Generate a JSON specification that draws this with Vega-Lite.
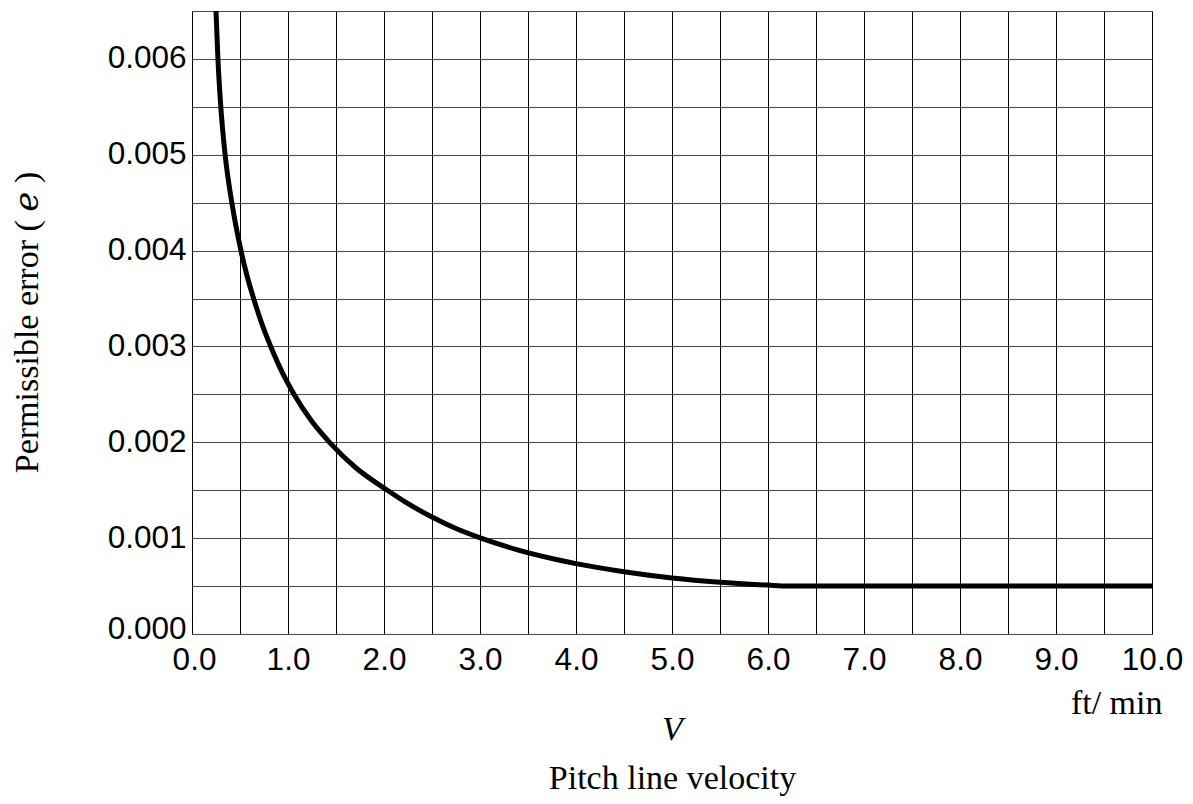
{
  "$schema": "https://vega.github.io/schema/vega-lite/v6.json",
  "width": 960,
  "height": 623,
  "autosize": "none",
  "padding": {"left": 192, "top": 11, "right": 41, "bottom": 170},
  "background": "white",
  "config": {
    "view": {"stroke": "#4a4a4a", "strokeWidth": 1},
    "axis": {
      "domain": false,
      "ticks": false,
      "labelFont": "Liberation Sans",
      "labelFontSize": 31.5,
      "labelColor": "#000",
      "labelOverlap": false,
      "titleFont": "Liberation Serif, DejaVu Serif, serif",
      "titleFontSize": 34,
      "titleFontWeight": "normal",
      "titleColor": "#000"
    }
  },
  "data": {
    "values": [
      {"V": 0.25, "e": 0.0065},
      {"V": 0.27, "e": 0.0060},
      {"V": 0.30, "e": 0.0055},
      {"V": 0.345, "e": 0.0050},
      {"V": 0.415, "e": 0.0045},
      {"V": 0.51, "e": 0.0040},
      {"V": 0.575, "e": 0.00373},
      {"V": 0.65, "e": 0.003475},
      {"V": 0.73, "e": 0.00323},
      {"V": 0.82, "e": 0.0030},
      {"V": 0.94, "e": 0.00273},
      {"V": 1.064, "e": 0.0025},
      {"V": 1.24, "e": 0.00223},
      {"V": 1.433, "e": 0.0020},
      {"V": 1.7, "e": 0.00174},
      {"V": 2.035, "e": 0.0015},
      {"V": 2.25, "e": 0.00136},
      {"V": 2.5, "e": 0.00122},
      {"V": 2.75, "e": 0.0011},
      {"V": 3.01, "e": 0.0010},
      {"V": 3.4, "e": 0.000876},
      {"V": 3.83, "e": 0.00077},
      {"V": 4.0, "e": 0.000734},
      {"V": 4.5, "e": 0.00065},
      {"V": 5.0, "e": 0.000585},
      {"V": 5.5, "e": 0.00054},
      {"V": 6.0, "e": 0.00051},
      {"V": 6.2, "e": 0.0005},
      {"V": 10.0, "e": 0.0005}
    ]
  },
  "encoding": {
    "y": {
      "field": "e",
      "type": "quantitative",
      "scale": {"domain": [0, 0.0065], "nice": false, "zero": true},
      "axis": {
        "values": [0, 0.0005, 0.001, 0.0015, 0.002, 0.0025, 0.003, 0.0035, 0.004, 0.0045, 0.005, 0.0055, 0.006, 0.0065],
        "labelExpr": "round(datum.value*2000) % 2 == 0 && datum.value < 0.0064 ? format(datum.value, '.3f') : ''",
        "labelPadding": 6,
        "labelOffset": {"condition": {"test": "datum.value == 0", "value": -5}, "value": 0},
        "grid": true,
        "gridColor": "#4a4a4a",
        "gridWidth": 1,
        "title": "Permissible error ( 𝑒 )",
        "titleAngle": -90,
        "titleX": -165,
        "titleY": 311,
        "titleAlign": "center",
        "titleBaseline": "middle"
      }
    }
  },
  "layer": [
    {
      "mark": {"type": "line", "color": "#000", "strokeWidth": 5, "clip": true, "interpolate": "monotone"},
      "encoding": {
        "x": {
          "field": "V",
          "type": "quantitative",
          "scale": {"domain": [0, 10], "nice": false},
          "axis": {
            "values": [0, 0.5, 1, 1.5, 2, 2.5, 3, 3.5, 4, 4.5, 5, 5.5, 6, 6.5, 7, 7.5, 8, 8.5, 9, 9.5, 10],
            "labelExpr": "round(datum.value*2) % 2 == 0 ? format(datum.value, '.1f') : ''",
            "labelPadding": 10,
            "labelFlush": false,
            "labelOffset": {"condition": {"test": "datum.value == 0", "value": 2}, "value": 0},
            "grid": true,
            "gridColor": "#000",
            "gridWidth": 1,
            "title": "Pitch line velocity",
            "titleX": 480,
            "titleY": 154,
            "titleAlign": "center",
            "titleBaseline": "alphabetic"
          }
        }
      }
    },
    {
      "mark": {"type": "line", "strokeOpacity": 0, "clip": true},
      "encoding": {
        "x": {
          "field": "V",
          "type": "quantitative",
          "scale": {"domain": [0, 10], "nice": false},
          "axis": {
            "orient": "bottom",
            "labels": false,
            "grid": false,
            "title": "V",
            "titleFontStyle": "italic",
            "titleX": 480,
            "titleY": 105,
            "titleAlign": "center",
            "titleBaseline": "alphabetic"
          }
        }
      }
    },
    {
      "mark": {"type": "line", "strokeOpacity": 0, "clip": true},
      "encoding": {
        "x": {
          "field": "V",
          "type": "quantitative",
          "scale": {"domain": [0, 10], "nice": false},
          "axis": {
            "orient": "bottom",
            "labels": false,
            "grid": false,
            "title": "ft/ min",
            "titleX": 970,
            "titleY": 79,
            "titleAlign": "right",
            "titleBaseline": "alphabetic"
          }
        }
      }
    }
  ],
  "resolve": {"axis": {"x": "independent"}}
}
